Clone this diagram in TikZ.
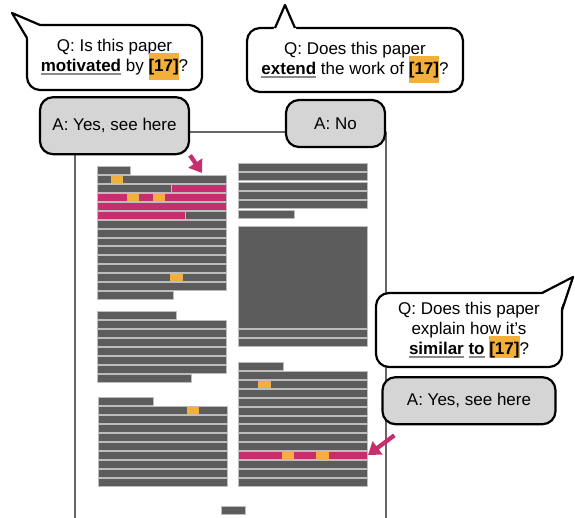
\documentclass[tikz,border=0pt]{standalone}
\usepackage{fontspec}
\setmainfont{Liberation Sans}
\usetikzlibrary{positioning,arrows.meta}
\definecolor{rowgray}{HTML}{5C5C5C}
\definecolor{sepgray}{HTML}{BDBDBD}
\definecolor{pagegray}{HTML}{666666}
\definecolor{ansgray}{HTML}{D5D5D5}
\definecolor{hlpink}{HTML}{C52F6E}
\definecolor{citeor}{HTML}{F2AF3A}
\definecolor{ulgray}{HTML}{8A8A8A}
\newcommand{\ulword}[1]{\setbox0\hbox{\bfseries #1}\rlap{\color{ulgray}\rule[-2.8pt]{\wd0}{1.8pt}}\box0\relax}
\newcommand{\citehl}[2]{\smash{\setlength{\fboxsep}{0pt}\colorbox{citeor}{\rule[-#1pt]{0pt}{#2pt}\bfseries [17]}}}

\begin{document}
\begin{tikzpicture}[x=1pt, y=-1pt, line join=round]
        \tikzstyle{bubble} = [rectangle, rounded corners=13pt, draw=black, line width=2.2pt, fill=white, align=center, inner sep=0pt, font=\fontsize{17}{20}\selectfont]
        \tikzstyle{answer} = [bubble, fill=ansgray]
        \tikzstyle{tail} = [draw=black, line width=2.2pt]
        \tikzstyle{txtrow} = [fill=rowgray, draw=sepgray, line width=0.7pt]
        \tikzstyle{hlrow} = [fill=hlpink, draw=sepgray, line width=0.7pt]
        \tikzstyle{cite} = [fill=citeor]
        \tikzstyle{pointer} = [draw=hlpink, line width=4.3pt, -{Triangle[length=12pt,width=16pt]}]

        \useasboundingbox (0,0) rectangle (575,518);

        % the page
        \draw[pagegray, line width=2.5pt] (75,518) -- (75,132) -- (386,132) -- (386,518);

        % left column
        \foreach \xe [count=\k from 0] in {130,226,226,226,226,226,226,226,226,226,226,226,226,226,173}
            \draw[txtrow] (97,166.7+8.9*\k) rectangle (\xe,166.7+8.9*\k+7.9);
        \draw[hlrow] (171,184.5) rectangle (226,192.4);
        \draw[hlrow] (97,193.4) rectangle (226,201.3);
        \draw[hlrow] (97,202.3) rectangle (226,210.2);
        \draw[hlrow] (97,211.2) rectangle (185,219.1);
        \fill[cite] (111,175.9) rectangle (123,183.2);
        \fill[cite] (127,193.7) rectangle (139,201);
        \fill[cite] (153,193.7) rectangle (165,201);
        \fill[cite] (170,273.8) rectangle (183,281.1);

        \foreach \xe [count=\k from 0] in {176,226,226,226,226,226,226,191}
            \draw[txtrow] (97,311.7+8.95*\k) rectangle (\xe,311.7+8.95*\k+7.9);

        \foreach \xe [count=\k from 0] in {153,227,227,227,227,227,227,227,227,227}
            \draw[txtrow] (98,397.3+9*\k) rectangle (\xe,397.3+9*\k+7.9);
        \fill[cite] (187,406.6) rectangle (199,413.9);

        % right column
        \foreach \xe [count=\k from 0] in {367,367,367,367,367,294}
            \draw[txtrow] (238,163.3+9.35*\k) rectangle (\xe,163.3+9.35*\k+7.9);
        \draw[txtrow] (238,226) rectangle (367,328.3);
        \draw[txtrow] (238,329.3) rectangle (367,337.3);
        \draw[txtrow] (238,338.7) rectangle (367,346.3);

        \foreach \xe [count=\k from 0] in {283,367,367,367,367,367,367,367,367,367,367,367,367,367}
            \draw[txtrow] (238,362.7+8.87*\k) rectangle (\xe,362.7+8.87*\k+7.9);
        \fill[cite] (258,380.7) rectangle (271,388);
        \draw[hlrow] (238,451.4) rectangle (367,459.3);
        \fill[cite] (281.7,451.7) rectangle (294,459);
        \fill[cite] (316,451.7) rectangle (328.7,459);

        \draw[txtrow] (221,506) rectangle (245,514);

        % questions
        \node (q1) [bubble, minimum width=175pt, minimum height=65pt] at (114.5,57.5) {Q: Is this paper\\ \ulword{motivated} by \citehl{7.7}{27}?};
        \fill[white] (12,13) -- (42,27) -- (29,40) -- cycle;
        \draw[tail] (40,25) -- (12,13) -- (27,38);

        \node (q2) [bubble, minimum width=216pt, minimum height=64pt] at (355,60) {Q: Does this paper\\ \ulword{extend} the work of \citehl{8}{26.5}?};
        \fill[white] (273,30.5) -- (285,5) -- (297,30.5) -- cycle;
        \draw[tail] (275,28) -- (285,5) -- (295,28);

        \node (q3) [bubble, minimum width=186pt, minimum height=74pt] at (469,330) {Q: Does this paper\\ explain how it’s\\ \ulword{similar} \ulword{to} \citehl{3}{22}?};
        \fill[white] (573,277) -- (540,295.5) -- (559.5,312) -- cycle;
        \draw[tail] (542,293) -- (573,277) -- (562,310);

        % answers
        \node (a1) [answer, minimum width=149pt, minimum height=57pt, below=5pt of q1] {A: Yes, see here};
        \node (a2) [answer, minimum width=99pt, minimum height=47pt] at (335.5,123.5) {A: No};
        \node (a3) [answer, minimum width=173pt, minimum height=47pt, below=8pt of q3] {A: Yes, see here};

        \coordinate (tip1) at (202,173);
        \coordinate (tip2) at (368,455);
        \draw[pointer] (a1.south east) -- (tip1);
        \draw[pointer] ([xshift=13pt,yshift=-10pt]a3.south west) -- (tip2);
    \end{tikzpicture}
\end{document}
